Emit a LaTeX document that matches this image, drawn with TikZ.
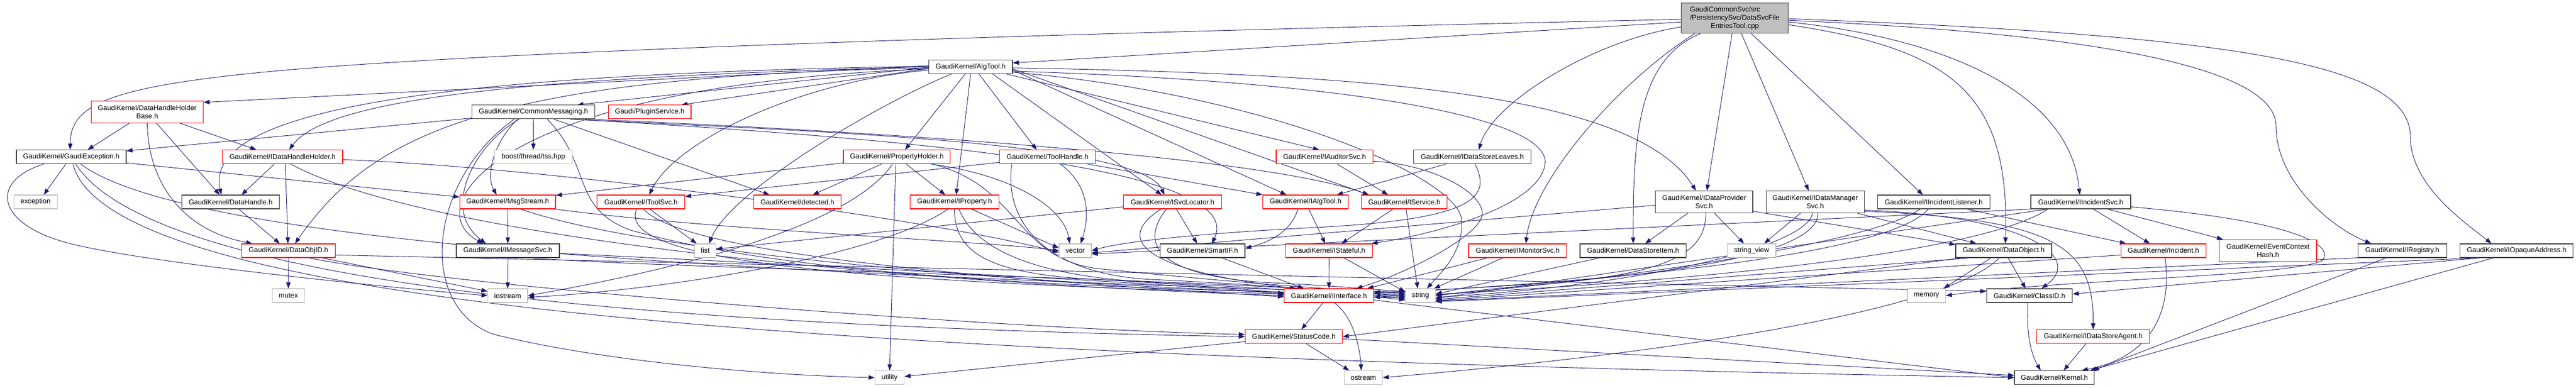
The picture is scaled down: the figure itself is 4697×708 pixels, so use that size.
\documentclass[tikz,border=0pt]{standalone}
\usepackage{fontspec}
\setmainfont{Liberation Sans}
\usetikzlibrary{arrows.meta}
\pgfdeclarelayer{bg}
\pgfsetlayers{bg,main}
\definecolor{edgeblue}{RGB}{25,25,112}
\definecolor{boxgray}{RGB}{191,191,191}
\definecolor{boxblack}{RGB}{64,64,64}
\definecolor{boxred}{RGB}{255,0,0}
\newcommand{\gkfont}{\fontsize{12.8}{15}\selectfont}
\begin{document}
\begin{tikzpicture}[x=1pt,y=-1pt,
  nd/.style={draw=boxblack, line width=1.2pt, fill=white, minimum height=25pt, inner sep=0pt, font=\gkfont, align=center, text=black},
  rd/.style={nd, draw=boxred},
  gy/.style={nd, draw=boxgray},
  dep/.style={draw=edgeblue, line width=0.9pt, -{Triangle[length=11pt,width=8pt]}},
]
\useasboundingbox (0,0) rectangle (4697,708);
% ---------------- nodes ----------------
\node[nd, fill=boxgray, minimum width=195pt, minimum height=55pt] (root) at (3163.2,33.2)
  {\rlap{GaudiCommonSvc/src}\phantom{/PersistencySvc/DataSvcFile}\\/PersistencySvc/DataSvcFile\\EntriesTool.cpp};
\node[nd, minimum width=152.3pt] (AlgTool) at (1769.9,121.9) {GaudiKernel/AlgTool.h};
\node[rd, minimum width=204.4pt, minimum height=40pt] (DHHB) at (268.5,204.4) {GaudiKernel/DataHandleHolder\\Base.h};
\node[nd, minimum width=224pt] (CommonMessaging) at (972.7,204.4) {GaudiKernel/CommonMessaging.h};
\node[rd, minimum width=150.7pt] (PluginService) at (1184.7,204.4) {Gaudi/PluginService.h};
\node[nd, minimum width=200pt] (GaudiException) at (130,286.3) {GaudiKernel/GaudiException.h};
\node[rd, minimum width=219.3pt] (IDataHandleHolder) at (515.3,286.3) {GaudiKernel/IDataHandleHolder.h};
\node[gy, minimum width=141.6pt] (tss) at (972.5,286.3) {boost/thread/tss.hpp};
\node[rd, minimum width=194.7pt] (PropertyHolder) at (1635.3,286.3) {GaudiKernel/PropertyHolder.h};
\node[rd, minimum width=174.6pt] (ToolHandle) at (1910,286.3) {GaudiKernel/ToolHandle.h};
\node[rd, minimum width=176.3pt] (IAuditorSvc) at (2415.2,286.3) {GaudiKernel/IAuditorSvc.h};
\node[nd, minimum width=213.6pt] (IDataStoreLeaves) at (2684.5,286.3) {GaudiKernel/IDataStoreLeaves.h};
\node[gy, minimum width=79pt] (exception) at (64.8,368.5) {exception};
\node[nd, minimum width=177.6pt] (DataHandle) at (420.5,368.5) {GaudiKernel/DataHandle.h};
\node[rd, minimum width=174.7pt] (MsgStream) at (925.7,368.5) {GaudiKernel/MsgStream.h};
\node[rd, minimum width=160pt] (IToolSvc) at (1168.7,368.5) {GaudiKernel/IToolSvc.h};
\node[rd, minimum width=158.6pt] (detected) at (1454,368.5) {GaudiKernel/detected.h};
\node[rd, minimum width=161.6pt] (IProperty) at (1740.5,368.5) {GaudiKernel/IProperty.h};
\node[rd, minimum width=178.6pt] (ISvcLocator) at (2138,368.5) {GaudiKernel/ISvcLocator.h};
\node[rd, minimum width=156.4pt] (IAlgTool) at (2380.5,368.5) {GaudiKernel/IAlgTool.h};
\node[rd, minimum width=156pt] (IService) at (2560.7,368.5) {GaudiKernel/IService.h};
\node[nd, minimum width=177.3pt, minimum height=40pt] (IDataProviderSvc) at (3107.3,368.5) {GaudiKernel/IDataProvider\\Svc.h};
\node[nd, minimum width=179pt, minimum height=40pt] (IDataManagerSvc) at (3309.8,368.5) {GaudiKernel/IDataManager\\Svc.h};
\node[nd, minimum width=204.6pt] (IIncidentListener) at (3526,368.5) {GaudiKernel/IIncidentListener.h};
\node[nd, minimum width=182pt] (IIncidentSvc) at (3794,368.5) {GaudiKernel/IIncidentSvc.h};
\node[rd, minimum width=170.6pt] (DataObjID) at (526,457.4) {GaudiKernel/DataObjID.h};
\node[nd, minimum width=188pt] (IMessageSvc) at (926,457.4) {GaudiKernel/IMessageSvc.h};
\node[gy, minimum width=38.6pt] (list) at (1286,457.4) {list};
\node[gy, minimum width=59pt] (vector) at (1960.5,457.4) {vector};
\node[nd, minimum width=154.7pt] (SmartIF) at (2192.7,457.4) {GaudiKernel/SmartIF.h};
\node[rd, minimum width=158pt] (IStateful) at (2423.3,457.4) {GaudiKernel/IStateful.h};
\node[rd, minimum width=178.7pt] (IMonitorSvc) at (2767.3,457.4) {GaudiKernel/IMonitorSvc.h};
\node[nd, minimum width=193.7pt] (DataStoreItem) at (2977.8,457.4) {GaudiKernel/DataStoreItem.h};
\node[gy, minimum width=88.3pt] (stringview) at (3193.8,457.4) {string\_view};
\node[nd, minimum width=175pt] (DataObject) at (3653.5,457.4) {GaudiKernel/DataObject.h};
\node[rd, minimum width=155.3pt] (Incident) at (3944.7,457.4) {GaudiKernel/Incident.h};
\node[rd, minimum width=177.3pt, minimum height=40pt] (EventContextHash) at (4135.3,457.4) {GaudiKernel/EventContext\\Hash.h};
\node[nd, minimum width=162pt] (IRegistry) at (4380.3,457.4) {GaudiKernel/IRegistry.h};
\node[nd, minimum width=206pt] (IOpaqueAddress) at (4588.7,457.4) {GaudiKernel/IOpaqueAddress.h};
\node[gy, minimum width=59pt] (mutex) at (525.8,539.5) {mutex};
\node[gy, minimum width=72.7pt] (iostream) at (925.7,539.5) {iostream};
\node[rd, minimum width=163pt] (IInterface) at (2423.2,539.5) {GaudiKernel/IInterface.h};
\node[gy, minimum width=54.6pt] (string) at (2590,539.5) {string};
\node[gy, minimum width=69.3pt] (memory) at (3512.7,539.5) {memory};
\node[nd, minimum width=156.4pt] (ClassID) at (3700.5,539.5) {GaudiKernel/ClassID.h};
\node[rd, minimum width=177.4pt] (StatusCode) at (2359,614.3) {GaudiKernel/StatusCode.h};
\node[rd, minimum width=205.6pt] (IDataStoreAgent) at (3816.5,614.3) {GaudiKernel/IDataStoreAgent.h};
\node[gy, minimum width=53.4pt] (utility) at (1622,689) {utility};
\node[gy, minimum width=69.4pt] (ostream) at (2486,689) {ostream};
\node[nd, minimum width=145.7pt] (Kernel) at (3745.8,689) {GaudiKernel/Kernel.h};
% ---------------- edges ----------------
\begin{pgfonlayer}{bg}
\fill[white] (0,0) rectangle (4697,708);
% root
\draw[dep] ([yshift=-7pt]root.west) -- ([yshift=7pt]AlgTool.east);
\draw[dep] ([yshift=-2pt]root.west) .. controls (1500,70) and (700,105) .. (420,138) .. controls (180,165) and (128,200) .. ([xshift=-2pt]GaudiException.north);
\draw[dep] ([yshift=-16pt]root.west) .. controls (2900,75) and (2720,190) .. ([xshift=12pt]IDataStoreLeaves.north);
\draw[dep] ([xshift=-73pt]root.south) .. controls (2950,150) and (2795,330) .. ([xshift=15pt]IMonitorSvc.north);
\draw[dep] ([xshift=-63pt]root.south) .. controls (2985,110) and (2978,250) .. (DataStoreItem.north);
\draw[dep] ([xshift=-5pt]root.south) -- ([xshift=5pt]IDataProviderSvc.north);
\draw[dep] ([xshift=12pt]root.south) -- ([xshift=-12pt]IDataManagerSvc.north);
\draw[dep] ([xshift=30pt]root.south) -- ([xshift=-20pt]IIncidentListener.north);
\draw[dep] ([yshift=-12pt]root.east) .. controls (3560,90) and (3665,170) .. ([xshift=3pt]DataObject.north);
\draw[dep] ([yshift=-7pt]root.east) .. controls (3550,70) and (3775,170) .. ([xshift=-2pt]IIncidentSvc.north);
\draw[dep] ([yshift=-4pt]root.east) .. controls (3800,60) and (4150,120) .. (4150,230) .. controls (4150,330) and (4250,415) .. ([xshift=-57pt]IRegistry.north);
\draw[dep] ([yshift=-1pt]root.east) .. controls (4100,65) and (4395,120) .. (4395,250) .. controls (4395,340) and (4500,410) .. ([xshift=-46pt]IOpaqueAddress.north);
% AlgTool
\draw[dep] ([yshift=2pt]AlgTool.west) -- ([yshift=-3pt]DHHB.north east);
\draw[dep] ([yshift=1pt]AlgTool.west) .. controls (800,135) and (370,200) .. ([xshift=-17pt]DataHandle.north);
\draw[dep] (AlgTool.west) .. controls (1000,140) and (600,175) .. ([xshift=12pt]IDataHandleHolder.north);
\draw[dep] ([yshift=-1pt]AlgTool.west) -- ([xshift=80pt]CommonMessaging.north);
\draw[dep] ([yshift=-3pt]AlgTool.west) -- ([xshift=58pt]PluginService.north);
\draw[dep] ([yshift=-2pt]AlgTool.west) .. controls (900,140) and (680,240) .. ([xshift=12pt]DataObjID.north);
\draw[dep] ([yshift=-4pt]AlgTool.west) .. controls (900,155) and (760,380) .. ([xshift=-45pt]IMessageSvc.north);
\draw[dep] ([yshift=-6pt]AlgTool.west) .. controls (1450,150) and (1230,260) .. ([xshift=15pt]IToolSvc.north);
\draw[dep] ([xshift=-35pt]AlgTool.south) .. controls (1600,190) and (1330,350) .. ([xshift=7pt]list.north);
\draw[dep] ([xshift=-10pt]AlgTool.south) -- ([xshift=15pt]PropertyHolder.north);
\draw[dep] (AlgTool.south) -- ([xshift=3pt]IProperty.north);
\draw[dep] ([xshift=15pt]AlgTool.south) -- ([xshift=-20pt]ToolHandle.north);
\draw[dep] ([xshift=40pt]AlgTool.south) -- ([xshift=-20pt]ISvcLocator.north);
\draw[dep] ([xshift=65pt]AlgTool.south) -- ([xshift=-10pt]IAuditorSvc.north);
\draw[dep] ([yshift=-6pt]AlgTool.east) -- ([xshift=-35pt]IAlgTool.north);
\draw[dep] ([yshift=-4pt]AlgTool.east) -- ([xshift=-65pt]IService.north);
\draw[dep] ([yshift=-2pt]AlgTool.east) .. controls (2500,135) and (2980,170) .. ([xshift=-15pt]IDataProviderSvc.north);
\draw[dep] ([yshift=-8pt]AlgTool.east) .. controls (2500,150) and (2830,220) .. (2817,300) .. controls (2805,380) and (2600,430) .. ([xshift=-2pt]IStateful.north east);
\draw[dep] ([yshift=-10pt]AlgTool.east) .. controls (2300,170) and (2655,320) .. (2665,400) .. controls (2670,460) and (2625,500) .. ([xshift=12pt]string.north);
% DataHandleHolderBase
\draw[dep] ([xshift=-33pt]DHHB.south) -- ([xshift=30pt]GaudiException.north);
\draw[dep] ([xshift=60pt]DHHB.south) -- ([xshift=-48pt]IDataHandleHolder.north);
\draw[dep] ([xshift=17pt]DHHB.south) -- ([xshift=-20pt]DataHandle.north);
\draw[dep] (DHHB.south) .. controls (270,330) and (330,420) .. ([xshift=-66pt]DataObjID.north);
% IDataHandleHolder
\draw[dep] ([xshift=-15pt]IDataHandleHolder.south) -- ([xshift=20pt]DataHandle.north);
\draw[dep] ([xshift=5pt]IDataHandleHolder.south) -- ([xshift=-1pt]DataObjID.north);
\draw[dep] ([xshift=15pt]IDataHandleHolder.south) .. controls (750,420) and (1500,510) .. (IInterface.west);
\draw[dep] ([yshift=-5pt]IDataHandleHolder.east) .. controls (1000,305) and (1700,400) .. ([yshift=-3pt]vector.west);
% DataHandle
\draw[dep] ([xshift=15pt]DataHandle.south) -- ([xshift=-16pt]DataObjID.north);
% GaudiException
\draw[dep] ([xshift=-10pt]GaudiException.south) -- ([xshift=15pt]exception.north);
\draw[dep] ([yshift=-11pt]GaudiException.east) -- ([yshift=9pt]MsgStream.west);
\draw[dep] ([xshift=-50pt]GaudiException.south) .. controls (-20,330) and (-10,410) .. (130,445) .. controls (250,475) and (600,515) .. (iostream.west);
\draw[dep] ([xshift=17pt]GaudiException.south) .. controls (350,450) and (1400,500) .. ([yshift=4pt]string.west);
\draw[dep] ([xshift=8pt]GaudiException.south) .. controls (280,520) and (1200,595) .. (StatusCode.west);
\draw[dep] ([xshift=3pt]GaudiException.south) .. controls (200,560) and (1500,650) .. (Kernel.west);
% CommonMessaging
\draw[dep] ([yshift=-11pt]CommonMessaging.west) -- ([yshift=11pt]GaudiException.east);
\draw[dep] (CommonMessaging.south) -- (tss.north);
\draw[dep] ([xshift=-26pt]CommonMessaging.south) .. controls (870,260) and (800,380) .. ([xshift=-40pt]IMessageSvc.north);
\draw[dep] ([xshift=-29pt]CommonMessaging.south) .. controls (900,260) and (885,320) .. ([xshift=-20pt]MsgStream.north);
\draw[dep] ([xshift=37pt]CommonMessaging.south) -- ([xshift=-51pt]detected.north);
\draw[dep] ([xshift=67pt]CommonMessaging.south) .. controls (1500,240) and (2080,260) .. ([xshift=-15pt]ISvcLocator.north);
\draw[dep] ([xshift=74pt]CommonMessaging.south) .. controls (1600,250) and (2280,300) .. ([xshift=17pt]SmartIF.north);
\draw[dep] ([xshift=100pt]CommonMessaging.south) .. controls (1600,240) and (2300,285) .. ([xshift=-65pt]IService.north);
\draw[dep] ([xshift=-35pt]CommonMessaging.south) .. controls (780,330) and (760,560) .. (900,610) .. controls (1100,660) and (1400,685) .. (utility.west);
\draw[dep] ([xshift=25pt]CommonMessaging.south) .. controls (1080,300) and (1040,380) .. (1150,420) .. controls (1500,520) and (2200,530) .. ([yshift=2pt]string.west);
% MsgStream
\draw[dep] (MsgStream.south) -- (IMessageSvc.north);
\draw[dep] ([xshift=24pt]MsgStream.south) .. controls (1200,470) and (2000,530) .. (string.west);
\draw[dep] ([xshift=87pt]MsgStream.south) .. controls (1300,420) and (1800,440) .. (vector.west);
% IMessageSvc
\draw[dep] (IMessageSvc.south) -- (iostream.north);
\draw[dep] ([yshift=-5pt]IMessageSvc.east) .. controls (1500,485) and (2200,520) .. ([yshift=2pt]IInterface.west);
\draw[dep] ([xshift=40pt]IMessageSvc.south) .. controls (1200,490) and (2300,510) .. ([yshift=-2pt]string.west);
% IToolSvc
\draw[dep] ([xshift=16pt]IToolSvc.south) -- ([xshift=-16pt]list.north);
\draw[dep] ([xshift=5pt]IToolSvc.south) .. controls (1250,470) and (1900,515) .. ([yshift=-2pt]IInterface.west);
\draw[dep] ([xshift=-8pt]IToolSvc.south) .. controls (1110,500) and (1800,520) .. ([yshift=-4pt]string.west);
% PropertyHolder
\draw[dep] ([xshift=-28pt]PropertyHolder.south) -- ([xshift=28pt]detected.north);
\draw[dep] ([xshift=17pt]PropertyHolder.south) -- ([xshift=-17pt]IProperty.north);
\draw[dep] ([xshift=-2pt]PropertyHolder.south) -- (utility.north);
\draw[dep] ([yshift=-11pt]PropertyHolder.west) -- ([yshift=12pt]MsgStream.east);
\draw[dep] ([xshift=-8pt]PropertyHolder.south) .. controls (1560,400) and (1300,480) .. (iostream.east);
\draw[dep] ([xshift=62pt]PropertyHolder.south) .. controls (1850,320) and (1940,380) .. ([xshift=-10pt]vector.north);
\draw[dep] ([xshift=65pt]PropertyHolder.south) .. controls (1860,340) and (1850,470) .. (2000,490) .. controls (2300,520) and (2450,530) .. ([yshift=6pt]string.west);
% ToolHandle
\draw[dep] ([yshift=-10pt]ToolHandle.west) -- ([yshift=10pt]IToolSvc.east);
\draw[dep] ([xshift=23pt]ToolHandle.south) .. controls (1990,340) and (1985,400) .. ([xshift=10pt]vector.north);
\draw[dep] ([xshift=73pt]ToolHandle.south) -- (IAlgTool.north west);
\draw[dep] ([xshift=-65pt]ToolHandle.south) .. controls (1830,400) and (1900,500) .. (2100,510) .. controls (2250,517) and (2450,530) .. ([yshift=-6pt]string.west);
% IProperty
\draw[dep] ([xshift=-12pt]IProperty.south) .. controls (1600,470) and (1200,530) .. ([yshift=-3pt]iostream.east);
\draw[dep] (IProperty.south) .. controls (1740,460) and (1800,500) .. (2000,510) .. controls (2150,518) and (2300,530) .. ([yshift=4pt]IInterface.west);
\draw[dep] ([xshift=8pt]IProperty.south) .. controls (1780,460) and (1900,505) .. (2100,515) .. controls (2300,525) and (2450,535) .. ([yshift=-8pt]string.west);
\draw[dep] ([xshift=31pt]IProperty.south) -- ([yshift=5pt]vector.west);
% ISvcLocator
\draw[dep] ([yshift=-9pt]ISvcLocator.west) -- ([yshift=3pt]list.east);
\draw[dep] ([xshift=-21pt]ISvcLocator.south) .. controls (2040,430) and (2060,490) .. ([xshift=-60pt]IInterface.north);
\draw[dep] ([xshift=-11pt]ISvcLocator.south) .. controls (2080,440) and (2100,500) .. (2300,515) .. controls (2450,522) and (2520,530) .. ([yshift=8pt]string.west);
\draw[dep] ([xshift=7pt]ISvcLocator.south) -- ([xshift=-10pt]SmartIF.north);
% IAuditorSvc
\draw[dep] ([xshift=23pt]IAuditorSvc.south) -- ([xshift=-30pt]IService.north);
\draw[dep] ([yshift=-8pt]IAuditorSvc.east) .. controls (2620,300) and (2720,360) .. (2700,400) .. controls (2680,440) and (2560,500) .. ([xshift=50pt]IInterface.north);
% IDataStoreLeaves
\draw[dep] ([xshift=-48pt]IDataStoreLeaves.south) -- ([xshift=57pt]IAlgTool.north);
\draw[dep] ([xshift=5pt]IDataStoreLeaves.south) .. controls (2720,360) and (2690,400) .. (2400,415) .. controls (2200,425) and (2050,440) .. (vector.east);
% IAlgTool
\draw[dep] ([xshift=6pt]IAlgTool.south) -- ([xshift=-7pt]IStateful.north);
\draw[dep] ([xshift=-14pt]IAlgTool.south) .. controls (2355,420) and (2320,440) .. ([yshift=4pt]SmartIF.east);
% IService
\draw[dep] ([xshift=-21pt]IService.south) -- ([xshift=23pt]IStateful.north);
\draw[dep] ([xshift=3pt]IService.south) -- ([xshift=-5pt]string.north);
% IStateful
\draw[dep] (IStateful.south) -- (IInterface.north);
\draw[dep] ([xshift=27pt]IStateful.south) -- ([yshift=7pt]string.west);
% IMonitorSvc
\draw[dep] ([xshift=-27pt]IMonitorSvc.south) -- ([xshift=-3pt]string.north east);
\draw[dep] ([xshift=-55pt]IMonitorSvc.south) -- ([xshift=70pt]IInterface.north);
% DataStoreItem
\draw[dep] ([xshift=-61pt]DataStoreItem.south) -- ([yshift=3pt]string.east);
% IDataProviderSvc
\draw[dep] ([xshift=-30pt]IDataProviderSvc.south) -- ([xshift=22pt]DataStoreItem.north);
\draw[dep] ([xshift=19pt]IDataProviderSvc.south) -- ([xshift=-14pt]stringview.north);
\draw[dep] ([xshift=3pt]IDataProviderSvc.south) .. controls (3110,460) and (3050,500) .. (2800,520) .. controls (2700,528) and (2650,536) .. (string.east);
\draw[dep] ([yshift=-6pt]IDataProviderSvc.west) -- ([yshift=-4pt]vector.east);
\draw[dep] ([yshift=-17pt]IDataProviderSvc.east) -- ([yshift=-2pt]DataObject.north west);
% IDataManagerSvc
\draw[dep] ([xshift=-27pt]IDataManagerSvc.south) -- ([xshift=23pt]stringview.north);
\draw[dep] ([xshift=77pt]IDataManagerSvc.south) -- ([xshift=-50pt]DataObject.north);
\draw[dep] ([yshift=-15pt]IDataManagerSvc.east) .. controls (3700,395) and (3800,470) .. ([xshift=22pt]ClassID.north);
\draw[dep] ([yshift=-17pt]IDataManagerSvc.east) .. controls (3750,400) and (3818,450) .. (IDataStoreAgent.north);
\draw[dep] ([xshift=-5pt]IDataManagerSvc.south) .. controls (3295,450) and (3000,520) .. ([yshift=-3pt]string.east);
\draw[dep] ([xshift=5pt]IDataManagerSvc.south) .. controls (3315,470) and (3000,515) .. ([yshift=6pt]IInterface.east);
% IIncidentListener
\draw[dep] ([xshift=-10pt]IIncidentListener.south) .. controls (3450,460) and (3000,510) .. ([yshift=4pt]IInterface.east);
\draw[dep] ([xshift=-25pt]IIncidentListener.south) .. controls (3400,450) and (2900,515) .. ([yshift=1pt]string.east);
\draw[dep] ([xshift=61pt]IIncidentListener.south) -- ([xshift=10pt]Incident.north west);
% IIncidentSvc
\draw[dep] ([xshift=23pt]IIncidentSvc.south) -- ([xshift=-25pt]Incident.north);
\draw[dep] ([xshift=49pt]IIncidentSvc.south) -- ([xshift=-82pt]EventContextHash.north);
\draw[dep] ([yshift=-9pt]IIncidentSvc.east) .. controls (4150,400) and (4260,440) .. (4235,475) .. controls (4180,505) and (3750,510) .. (memory.east);
\draw[dep] ([xshift=-91pt]IIncidentSvc.south) -- ([yshift=-6pt]vector.east);
\draw[dep] ([xshift=-61pt]IIncidentSvc.south) -- ([yshift=-5pt]string.east);
\draw[dep] ([xshift=-60pt]IIncidentSvc.south) .. controls (3600,470) and (3000,520) .. ([yshift=-3pt]IInterface.east);
% DataObject
\draw[dep] ([xshift=-23pt]DataObject.south) -- ([xshift=-4pt]memory.north east);
\draw[dep] ([xshift=8pt]DataObject.south) -- ([xshift=-7pt]ClassID.north);
\draw[dep] ([xshift=-8pt]DataObject.south) .. controls (3560,560) and (3100,640) .. (ostream.east);
\draw[dep] ([xshift=-60pt]DataObject.south) -- ([yshift=-7pt]string.east);
\draw[dep] ([xshift=-75pt]DataObject.south) -- (StatusCode.east);
% Incident
\draw[dep] ([xshift=3pt]Incident.south) .. controls (3960,560) and (3930,650) .. ([xshift=50pt]Kernel.north);
\draw[dep] ([yshift=-8pt]Incident.west) -- ([yshift=-9pt]string.east);
% IRegistry
\draw[dep] (IRegistry.south west) -- ([yshift=-10pt]string.east);
\draw[dep] ([xshift=-29pt]IRegistry.south) -- ([xshift=-3pt]Kernel.north east);
% IOpaqueAddress
\draw[dep] ([xshift=-65pt]IOpaqueAddress.south) -- ([yshift=-11pt]string.east);
\draw[dep] ([xshift=-66pt]IOpaqueAddress.south) -- ([yshift=3pt]ClassID.east);
\draw[dep] ([xshift=-42pt]IOpaqueAddress.south) -- ([xshift=-8pt]Kernel.north east);
% DataObjID
\draw[dep] (DataObjID.south) -- (mutex.north);
\draw[dep] ([xshift=61pt]DataObjID.south) -- ([yshift=8pt]iostream.west);
\draw[dep] ([yshift=-8pt]DataObjID.east) -- ([yshift=8pt]ClassID.west);
\draw[dep] ([xshift=37pt]DataObjID.south) .. controls (800,520) and (1800,600) .. ([yshift=4pt]StatusCode.west);
% IInterface
\draw[dep] ([xshift=-11pt]IInterface.south) -- ([xshift=14pt]StatusCode.north);
\draw[dep] ([xshift=10pt]IInterface.south) .. controls (2470,580) and (2480,640) .. ([xshift=-4pt]ostream.north);
\draw[dep] ([yshift=-8pt]IInterface.east) -- (Kernel.west);
% StatusCode
\draw[dep] ([xshift=23pt]StatusCode.south) -- ([xshift=-26pt]ostream.north);
\draw[dep] ([yshift=-9pt]StatusCode.west) -- ([yshift=2pt]utility.east);
\draw[dep] ([yshift=-4pt]StatusCode.east) -- ([yshift=4pt]Kernel.west);
% SmartIF
\draw[dep] ([xshift=35pt]SmartIF.south) -- ([xshift=-46pt]IInterface.north);
% ClassID, IDataStoreAgent
\draw[dep] ([xshift=-3pt]ClassID.south) .. controls (3695,600) and (3700,640) .. ([xshift=-25pt]Kernel.north);
\draw[dep] ([xshift=-13pt]IDataStoreAgent.south) -- ([xshift=17pt]Kernel.north);
\end{pgfonlayer}
\end{tikzpicture}
\end{document}
